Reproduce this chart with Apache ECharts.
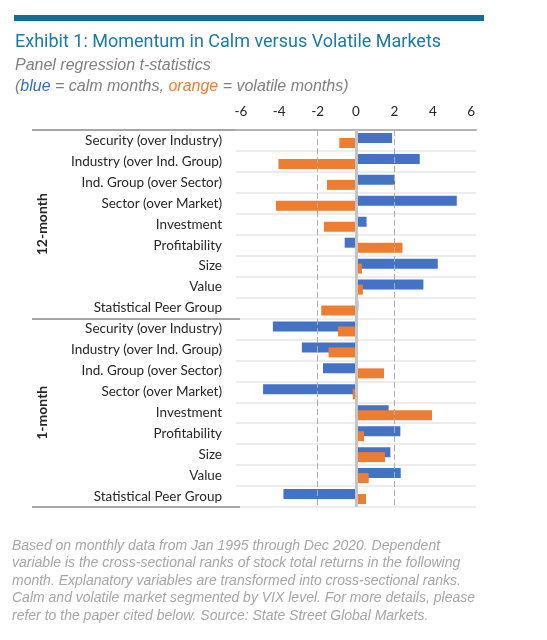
<!DOCTYPE html>
<html>
<head>
<meta charset="utf-8">
<script src="https://cdn.jsdelivr.net/npm/echarts@6/dist/echarts.min.js"></script>
<style>
html,body{margin:0;padding:0;background:#fff;}
#chart{width:547px;height:640px;}
</style>
</head>
<body>
<div id="chart"></div>
<script>
// ---- data ----
const groups = ['12-month', '1-month'];
const factors = ['Security (over Industry)', 'Industry (over Ind. Group)', 'Ind. Group (over Sector)',
  'Sector (over Market)', 'Investment', 'Profitability', 'Size', 'Value', 'Statistical Peer Group'];
const calm12 = [1.88, 3.32, 2.03, 5.25, 0.55, -0.59, 4.26, 3.51, 0.12];
const volatile12 = [-0.87, -4.04, -1.51, -4.17, -1.67, 2.42, 0.31, 0.36, -1.81];
const calm1 = [-4.33, -2.82, -1.72, -4.84, 1.70, 2.31, 1.79, 2.33, -3.78];
const volatile1 = [-0.94, -1.43, 1.46, -0.17, 3.96, 0.42, 1.51, 0.66, 0.52];
const xTicks = [-6, -4, -2, 0, 2, 4, 6];
const refLines = [-2, 2];

// ---- build ----
const categories = [];
groups.forEach(g => factors.forEach(f => categories.push(g + '|' + f)));
const calm = calm12.concat(calm1);
const volatile = volatile12.concat(volatile1);

const chart = echarts.init(document.getElementById('chart'), null, {renderer: 'canvas'});
const GRID_TOP = 130, GRID_H = 377;
const option = {
  animation: false,
  backgroundColor: '#fff',
  graphic: [{
    type: 'rect', left: 14, top: 15, shape: {width: 470, height: 6},
    style: {fill: '#0f6f96'}
  }],
  title: [
    {text: 'Exhibit 1: Momentum in Calm versus Volatile Markets', left: 15, top: 33, padding: 0,
      textStyle: {fontFamily: 'Roboto', fontSize: 18, fontWeight: 'normal', color: '#1c7aa3'}},
    {text: 'Panel regression t-statistics', left: 15, top: 58, padding: 0,
      textStyle: {fontFamily: 'Liberation Sans', fontSize: 16, fontStyle: 'italic', fontWeight: 'normal', color: '#808080'}},
    {text: '({b|blue} = calm months, {o|orange} = volatile months)', left: 15, top: 79, padding: 0,
      textStyle: {fontFamily: 'Liberation Sans', fontSize: 16, fontStyle: 'italic', fontWeight: 'normal', color: '#808080',
        rich: {
          b: {fontFamily: 'Liberation Sans', fontSize: 16, fontStyle: 'italic', color: '#2e6fc0'},
          o: {fontFamily: 'Liberation Sans', fontSize: 16, fontStyle: 'italic', color: '#ed7d31'}
        }}},
    {text: 'Based on monthly data from Jan 1995 through Dec 2020. Dependent\nvariable is the cross-sectional ranks of stock total returns in the following\nmonth. Explanatory variables are transformed into cross-sectional ranks.\nCalm and volatile market segmented by VIX level. For more details, please\nrefer to the paper cited below. Source: State Street Global Markets.',
      left: 12, top: 537, padding: 0,
      textStyle: {fontFamily: 'Liberation Sans', fontSize: 14, fontStyle: 'italic', fontWeight: 'normal', color: '#a6a6a6', lineHeight: 17.5}}
  ],
  grid: [
    {left: 236, right: 71, top: GRID_TOP, height: GRID_H, containLabel: false},
    {left: 32, width: 208, top: GRID_TOP, height: GRID_H, containLabel: false}
  ],
  xAxis: [
    {type: 'value', gridIndex: 0, min: -6.25, max: 6.25, position: 'top',
      axisLine: {show: true, onZero: false, lineStyle: {color: '#b4b4b4', width: 2}},
      axisTick: {show: false}, splitLine: {show: false},
      axisLabel: {customValues: xTicks, margin: 11, fontFamily: 'Lato', fontSize: 13.5, color: '#262626'}},
    {type: 'value', gridIndex: 1, show: false, min: 0, max: 1}
  ],
  yAxis: [
    {type: 'category', gridIndex: 0, data: categories, inverse: true,
      axisLine: {show: false}, axisTick: {show: false},
      splitLine: {show: true, lineStyle: {color: '#ececec', width: 2}},
      axisLabel: {margin: 14, fontFamily: 'Lato', fontSize: 13.5, color: '#262626',
        formatter: v => v.split('|')[1]}},
    {type: 'category', gridIndex: 1, data: groups, inverse: true,
      axisLine: {show: false}, axisTick: {show: false},
      splitLine: {show: true, lineStyle: {color: '#a6a6a6', width: 2}},
      axisLabel: {inside: true, rotate: 90, margin: 3, fontFamily: 'Lato', fontSize: 14, fontWeight: 'bold', color: '#262626'}}
  ],
  series: [
    {type: 'line', xAxisIndex: 0, yAxisIndex: 0, data: [], z: 1, silent: true,
      markLine: {silent: true, symbol: 'none', label: {show: false},
        data: [{xAxis: 0, lineStyle: {color: '#c4c4c4', width: 3, type: 'solid'}}]
          .concat(refLines.map(v => ({xAxis: v, lineStyle: {color: '#adadad', width: 1, type: [6, 3]}})))}},
    {name: 'calm', type: 'bar', xAxisIndex: 0, yAxisIndex: 0, data: calm, barWidth: 10, barGap: '-50%', z: 2,
      itemStyle: {color: '#4472c4'}},
    {name: 'volatile', type: 'bar', xAxisIndex: 0, yAxisIndex: 0, data: volatile, barWidth: 10, barGap: '-50%', z: 2,
      itemStyle: {color: '#ed7d31'}}
  ]
};
chart.setOption(option);
</script>
</body>
</html>
